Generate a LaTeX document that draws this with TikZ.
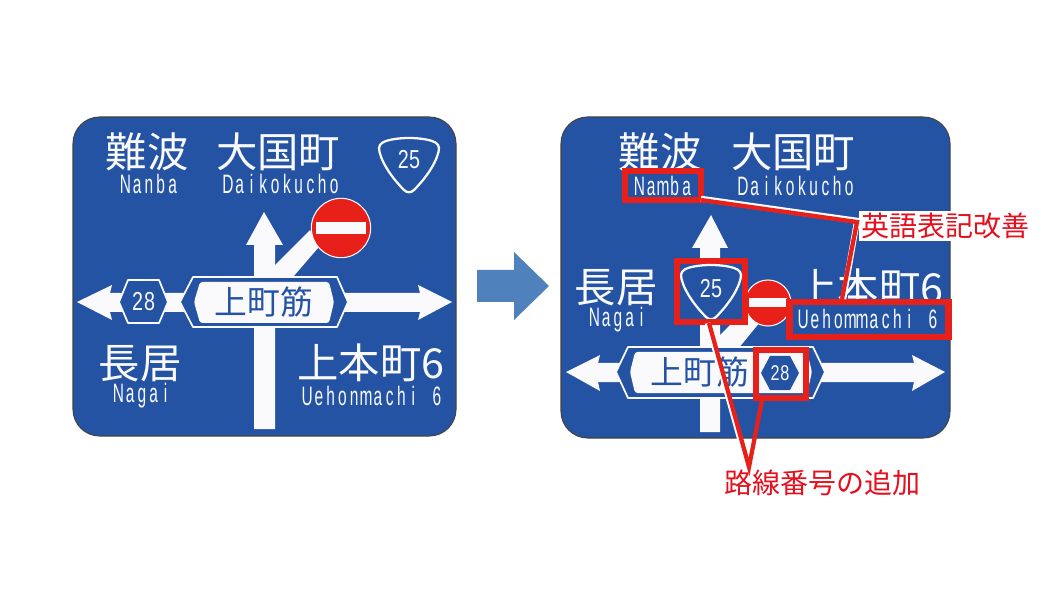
\documentclass[tikz,border=0pt]{standalone}
\usepackage{fontspec}
\newfontfamily\cjk{Noto Sans CJK JP}
\newfontfamily\latn[FakeStretch=.58]{Liberation Sans}
\newfontfamily\digit[FakeStretch=.76]{Liberation Sans}
\definecolor{signblue}{HTML}{2453A4}
\definecolor{signred}{HTML}{E8201A}
\definecolor{labelred}{HTML}{E60F1E}
\definecolor{arrowblue}{HTML}{4F81BD}
\definecolor{signwhite}{HTML}{FAFAFC}
\definecolor{rimgrey}{HTML}{444444}
\makeatletter
\newcommand\monotxt[2][8.85pt]{\@tfor\mx:=#2\do{\makebox[#1]{\mx}}}
\makeatother
\tikzset{
  signrect/.style={fill=signblue,draw=rimgrey,line width=.8pt,rounded corners=20pt},
  road/.style={fill=signwhite,draw=none},
  hexouter/.style={fill=signblue,draw=signwhite,line width=1.3pt,line join=round},
  hexinner/.style={fill=signwhite,draw=none,rounded corners=2pt},
  shieldline/.style={fill=signblue,draw=signwhite,line width=1.7pt},
  bigjp/.style={text=signwhite,inner sep=0pt,text height=24pt,text depth=2pt,font=\cjk\fontsize{31pt}{33pt}\selectfont},
  midjp/.style={text=signblue,inner sep=0pt,font=\cjk\fontsize{24.6pt}{26pt}\selectfont},
  engl/.style={text=signwhite,inner sep=0pt,font=\latn\fontsize{20pt}{21pt}\selectfont},
  num/.style={text=signwhite,inner sep=0pt,font=\digit\fontsize{19.5pt}{21pt}\selectfont},
  nosign/.style={circle,fill=signred,draw=signwhite,line width=.8pt,inner sep=0pt},
  nobar/.style={fill=signwhite,draw=none,inner sep=0pt},
  redbox/.style={draw=signred,fill=signblue,line width=4.6pt,inner sep=0pt,rectangle},
  redclear/.style={draw=signred,line width=4.6pt,inner sep=0pt,rectangle},
  halo/.style={draw=white,line width=4.4pt},
  redline/.style={draw=signred,line width=3.2pt,line join=miter},
  labeltext/.style={text=labelred,inner sep=1.5pt,font=\cjk\fontsize{21pt}{23pt}\selectfont},
}
\newcommand\shieldpath{(0,0) .. controls (8,0) and (17,1) .. (23,3) .. controls (29,5) and (31,8) .. (29.5,14) .. controls (26,28) and (14,43) .. (5,52) .. controls (2,55) and (-2,55) .. (-5,52) .. controls (-14,43) and (-26,28) .. (-29.5,14) .. controls (-31,8) and (-29,5) .. (-23,3) .. controls (-17,1) and (-8,0) .. (0,0) -- cycle}
\begin{document}
\begin{tikzpicture}[x=.75pt,y=-.75pt]
\useasboundingbox (0,0) rectangle (1063,591);
\fill[white] (0,0) rectangle (1063,591);

% ---------- left sign ----------
\draw[signrect] (73,117) rectangle (456,436);
\fill[road] (254,429) -- (254,245) -- (246,245) -- (264,212) -- (283,245) -- (275,245) -- (275,429) -- cycle;
\fill[road] (275,265) -- (310,230) -- (318,248) -- (293,277) -- (275,277) -- cycle;
\fill[road] (77,302) -- (112,285) -- (110,293) -- (200,293) -- (200,312) -- (110,312) -- (112,320) -- cycle;
\fill[road] (340,293) -- (420,293) -- (418,285) -- (452,302) -- (418,320) -- (420,312) -- (340,312) -- cycle;
\node[nosign,minimum size=44.5pt] (lno) at (341,228) {};
\node[nobar,minimum width=38pt,minimum height=9pt] (lbar) at (341,228) {};
\draw[hexouter] (119,302) -- (128,280) -- (159,280) -- (168,302) -- (159,323) -- (128,323) -- cycle;
\node[num] (l28) at (143.5,302) {\monotxt[9pt]{28}};
\draw[hexouter] (180,302) -- (193,277) -- (337,277) -- (348,302) -- (337,327) -- (193,327) -- cycle;
\fill[hexinner] (194,302) -- (200,282) -- (329,282) -- (334,302) -- (329,323) -- (200,323) -- cycle;
\node[midjp] (lst) at (264,302) {上町筋};
\begin{scope}[shift={(409,138)}]
  \draw[shieldline] \shieldpath;
\end{scope}
\node[num] (l25) at (409,160) {\monotxt[8.4pt]{25}};
\node[bigjp] (lnanba) at (147,153) {難波};
\node[bigjp] (ldai) at (278,153) {大国町};
\node[engl] (lnanbae) at (149,183.5) {\monotxt{Nanba}};
\node[engl] (ldaie) at (281,183.5) {\monotxt{Daikokucho}};
\node[bigjp] (lnag) at (140,364) {長居};
\node[engl] (lnage) at (142,395.5) {\monotxt{Nagai}};
\node[bigjp] (lue) at (371,364) {上本町6};
\node[engl] (luee) at (372,395.5) {\monotxt{Uehonmachi~6}};

% ---------- centre arrow ----------
\fill[arrowblue] (477,270) -- (514,270) -- (514,252) -- (549,286) -- (514,320) -- (514,302) -- (477,302) -- cycle;

% ---------- right sign ----------
\draw[signrect] (561,117) rectangle (950,438);
\fill[road] (700,432) -- (700,248) -- (692,248) -- (711,215) -- (728,248) -- (720,248) -- (720,432) -- cycle;
\fill[road] (720,335) -- (747,308) -- (760,322) -- (738,349) -- (720,349) -- cycle;
\fill[road] (566,372) -- (600,355) -- (598,363) -- (640,363) -- (640,382) -- (598,382) -- (600,391) -- cycle;
\fill[road] (810,363) -- (914,363) -- (912,355) -- (945,372) -- (912,391) -- (914,382) -- (810,382) -- cycle;
\node[nosign,minimum size=34.5pt] (rno) at (768,303) {};
\node[nobar,minimum width=29pt,minimum height=7pt] (rbar) at (768,302.5) {};
\draw[hexouter] (616,372) -- (628,347) -- (813,347) -- (825,372) -- (813,398) -- (628,398) -- cycle;
\fill[hexinner] (630,372) -- (635,352) -- (807,352) -- (812,372) -- (807,393) -- (635,393) -- cycle;
\node[midjp] (rst) at (700,372) {上町筋};
\node[bigjp] (rnanba) at (660,153) {難波};
\node[bigjp] (rdai) at (793,153) {大国町};
\node[engl] (rdaie) at (796,186) {\monotxt{Daikokucho}};
\node[bigjp] (rnag) at (616,288) {長居};
\node[engl] (rnage) at (618,319.5) {\monotxt{Nagai}};
\node[bigjp] (rue) at (870,289) {上本町6};

% red frames with their contents
\node[redbox,minimum width=57pt,minimum height=21.75pt] (bnamba) at (663,185.5) {};
\node[engl] (rnamba) at (663,186) {\monotxt{Namba}};
\node[redbox,minimum width=119.25pt,minimum height=26.25pt] (bue) at (869,319.5) {};
\node[engl] (ruee) at (868,319) {\monotxt{Uehommachi~6}};
\node[redbox,minimum width=51pt,minimum height=45.75pt] (b25) at (711,291.5) {};
\begin{scope}[shift={(711,265)}]
  \clip (-31,-3) rectangle (31,54);
  \draw[shieldline] \shieldpath;
\end{scope}
\node[num] (r25) at (711,289) {\monotxt[8.4pt]{25}};
\fill[signblue] (761,373) -- (770,356) -- (790,356) -- (799,373) -- (790,390) -- (770,390) -- cycle;
\node[redclear,minimum width=37.5pt,minimum height=36pt] (b28) at (781,374) {};
\node[num,font=\digit\fontsize{16pt}{17pt}\selectfont] (r28) at (780,373) {\monotxt[7.2pt]{28}};

% callouts
\node[fill=white,labeltext,inner sep=1.2pt] (leng) at (945,226) {英語表記改善};
\node[labeltext] (lroute) at (822,483) {路線番号の追加};
\coordinate (eng) at (857,222);
\coordinate (route) at (749,467);
\coordinate (namfoot) at (701,200);
\coordinate (uefoot) at (842,299);
\coordinate (b25foot) at (709,323);
\coordinate (b28foot) at (762,400);
\draw[halo] ([yshift=1pt]namfoot) -- ([yshift=1pt]eng) -- ([xshift=1pt]uefoot);
\draw[redline] (namfoot) -- (eng) -- (uefoot);
\draw[halo,line width=4.2pt] ([xshift=-1pt]b25foot) -- ([xshift=-1pt]route);
\draw[redline] (b25foot) -- (route) -- (b28foot);
\end{tikzpicture}
\end{document}
